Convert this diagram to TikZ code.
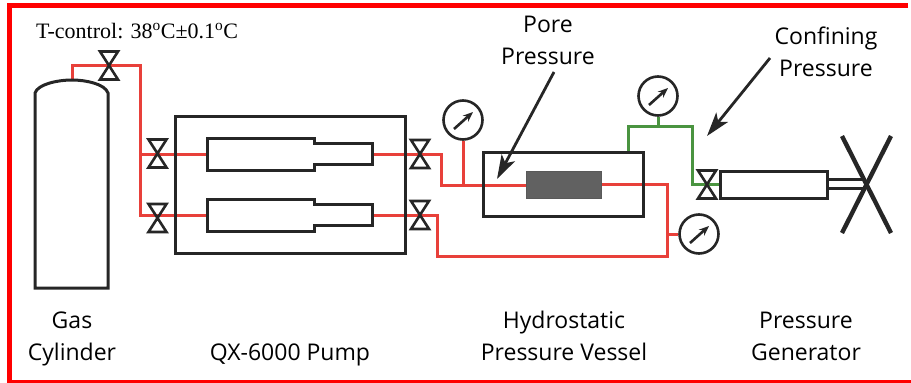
\documentclass[tikz,border=0pt]{standalone}
\usepackage{fontspec}
\setmainfont{Open Sans}
\newfontfamily\timesfont{Liberation Serif}
\usetikzlibrary{positioning, arrows.meta, backgrounds}
\definecolor{pipered}{HTML}{E8403A}
\definecolor{pipegreen}{HTML}{4A9440}
\definecolor{linegray}{HTML}{262626}
\tikzset{
outline/.style={draw=linegray, line width=3pt}, % black outlines of the parts
redpipe/.style={draw=pipered, line width=3pt},
greenpipe/.style={draw=pipegreen, line width=3pt},
valve/.style={minimum width=26pt, minimum height=38pt, inner sep=0pt, path picture={
\draw[draw=linegray, line width=2.6pt, line join=miter] (-9,-14) -- (9,-14) -- (-9,14) -- (9,14) -- cycle;}},
gauge/.style={circle, draw=linegray, line width=2.6pt, fill=white, minimum size=39pt, inner sep=0pt, path picture={
\draw[draw=linegray, line width=2.6pt, -{Stealth[length=10pt,width=8pt]}] (-9,9) -- (10,-8);}},
pointer/.style={draw=linegray, line width=2.8pt, -{Stealth[length=24pt,width=15pt,inset=6pt]}},
label/.style={font=\fontsize{23}{32}\selectfont, align=center},
box/.style={outline, inner sep=0pt},
}
% syringe body, from its inlet to its outlet
\newcommand{\syringe}[2]{
\coordinate (#1 in) at (207,#2);
\coordinate (#1 out) at (372,#2);
\draw[outline] (314,#2-11) -- (372,#2-11) -- (372,#2+10) -- (314,#2+10) -- (314,#2+16) -- (207,#2+16) -- (207,#2-16) -- (314,#2-16) -- cycle;
}
\begin{document}
\begin{tikzpicture}[x=1pt,y=-1pt]
\useasboundingbox (0,0) rectangle (911,383);
\draw[draw=red, line width=5pt] (908,5.5) -- (9.5,5.5) -- (9.5,382) -- (911,382);

% gas cylinder
\coordinate (gas top) at (72,80);
\draw[outline] (35,288) -- (35,93) .. controls (38,84) and (58,80) .. (gas top) .. controls (86,80) and (105,84) .. (108,93) -- (108,288) -- cycle;

% pump
\node[box, minimum width=230pt, minimum height=137pt] (pump) at (290,184.5) {};
\syringe{upper}{154}
\syringe{lower}{215}

% valves and gauges
\node[valve] (v top) at (109,65.5) {};
\node[valve] (v in a) at (157.5,153.5) {};
\node[valve] (v in b) at (157.5,218) {};
\node[valve] (v out a) at (420,154) {};
\node[valve] (v out b) at (420,215) {};
\node[valve] (v gen) at (707,184.5) {};
\node[gauge] (g pore) at (463,120) {};
\node[gauge] (g conf) at (658,96) {};
\node[gauge] (g out) at (699,234) {};

% vessel with the sample
\node[box, minimum width=160pt, minimum height=64pt] (vessel) at (563,184) {};
\node[draw=gray!70!black, fill=black!62, minimum width=75pt, minimum height=27pt, inner sep=0pt] (sample) at (563.5,184.5) {};

% pressure generator
\node[box, minimum width=107pt, minimum height=27pt] (gen) at (773.5,184.5) {};
\coordinate (hub) at (866,184);
\draw[outline] (gen.east |- 0,179) -- (hub |- 0,179);
\draw[outline] (gen.east |- 0,188) -- (hub |- 0,188);
\draw[draw=linegray, line width=4.4pt] (842,136) -- (891,233);
\draw[draw=linegray, line width=4.4pt] (891,136) -- (842,233);

\begin{pgfonlayer}{background}
\draw[redpipe] (gas top) |- (v top.center) -- (140,65.5) -- (140,215) -- (lower in);
\draw[redpipe] (140,154) -- (upper in);
\draw[redpipe] (upper out) -- (441,154) -- (441,185) -- (sample.west |- 0,185);
\draw[redpipe] (g pore) -- (g pore |- 0,185);
\draw[redpipe] (sample.east |- 0,184) -- (667,184) -- (667,256) -- (437,256) -- (437,215) -- (lower out);
\draw[redpipe] (667,234) -- (g out);
\draw[greenpipe] (628,152) |- (692,126) -- (692,184.5) -- (gen.west);
\draw[greenpipe] (g conf) -- (g conf |- 0,126);
\end{pgfonlayer}

% labels
\node[label] (pore) at (548,40) {Pore\\Pressure};
\node[label] (conf) at (826,52) {Confining\\Pressure};
\node[label] (gas label) at (72,339) {Gas\\Cylinder};
\node[label] (pump label) at (290,354.5) {QX-6000 Pump};
\node[label] (vessel label) at (564,336) {Hydrostatic\\Pressure Vessel};
\node[label] (gen label) at (806,336) {Pressure\\Generator};
\node[anchor=west, inner sep=0pt, font=\timesfont\fontsize{22}{24}\selectfont] (tctl) at (36,31) {T-control: 38\textsuperscript{o}C±0.1\textsuperscript{o}C};

% arrows
\coordinate (pore tip) at (497,179);
\coordinate (conf tip) at (707,136);
\draw[pointer] (554,72) -- (pore tip);
\draw[pointer] (770,58) -- (conf tip);
\end{tikzpicture}
\end{document}
